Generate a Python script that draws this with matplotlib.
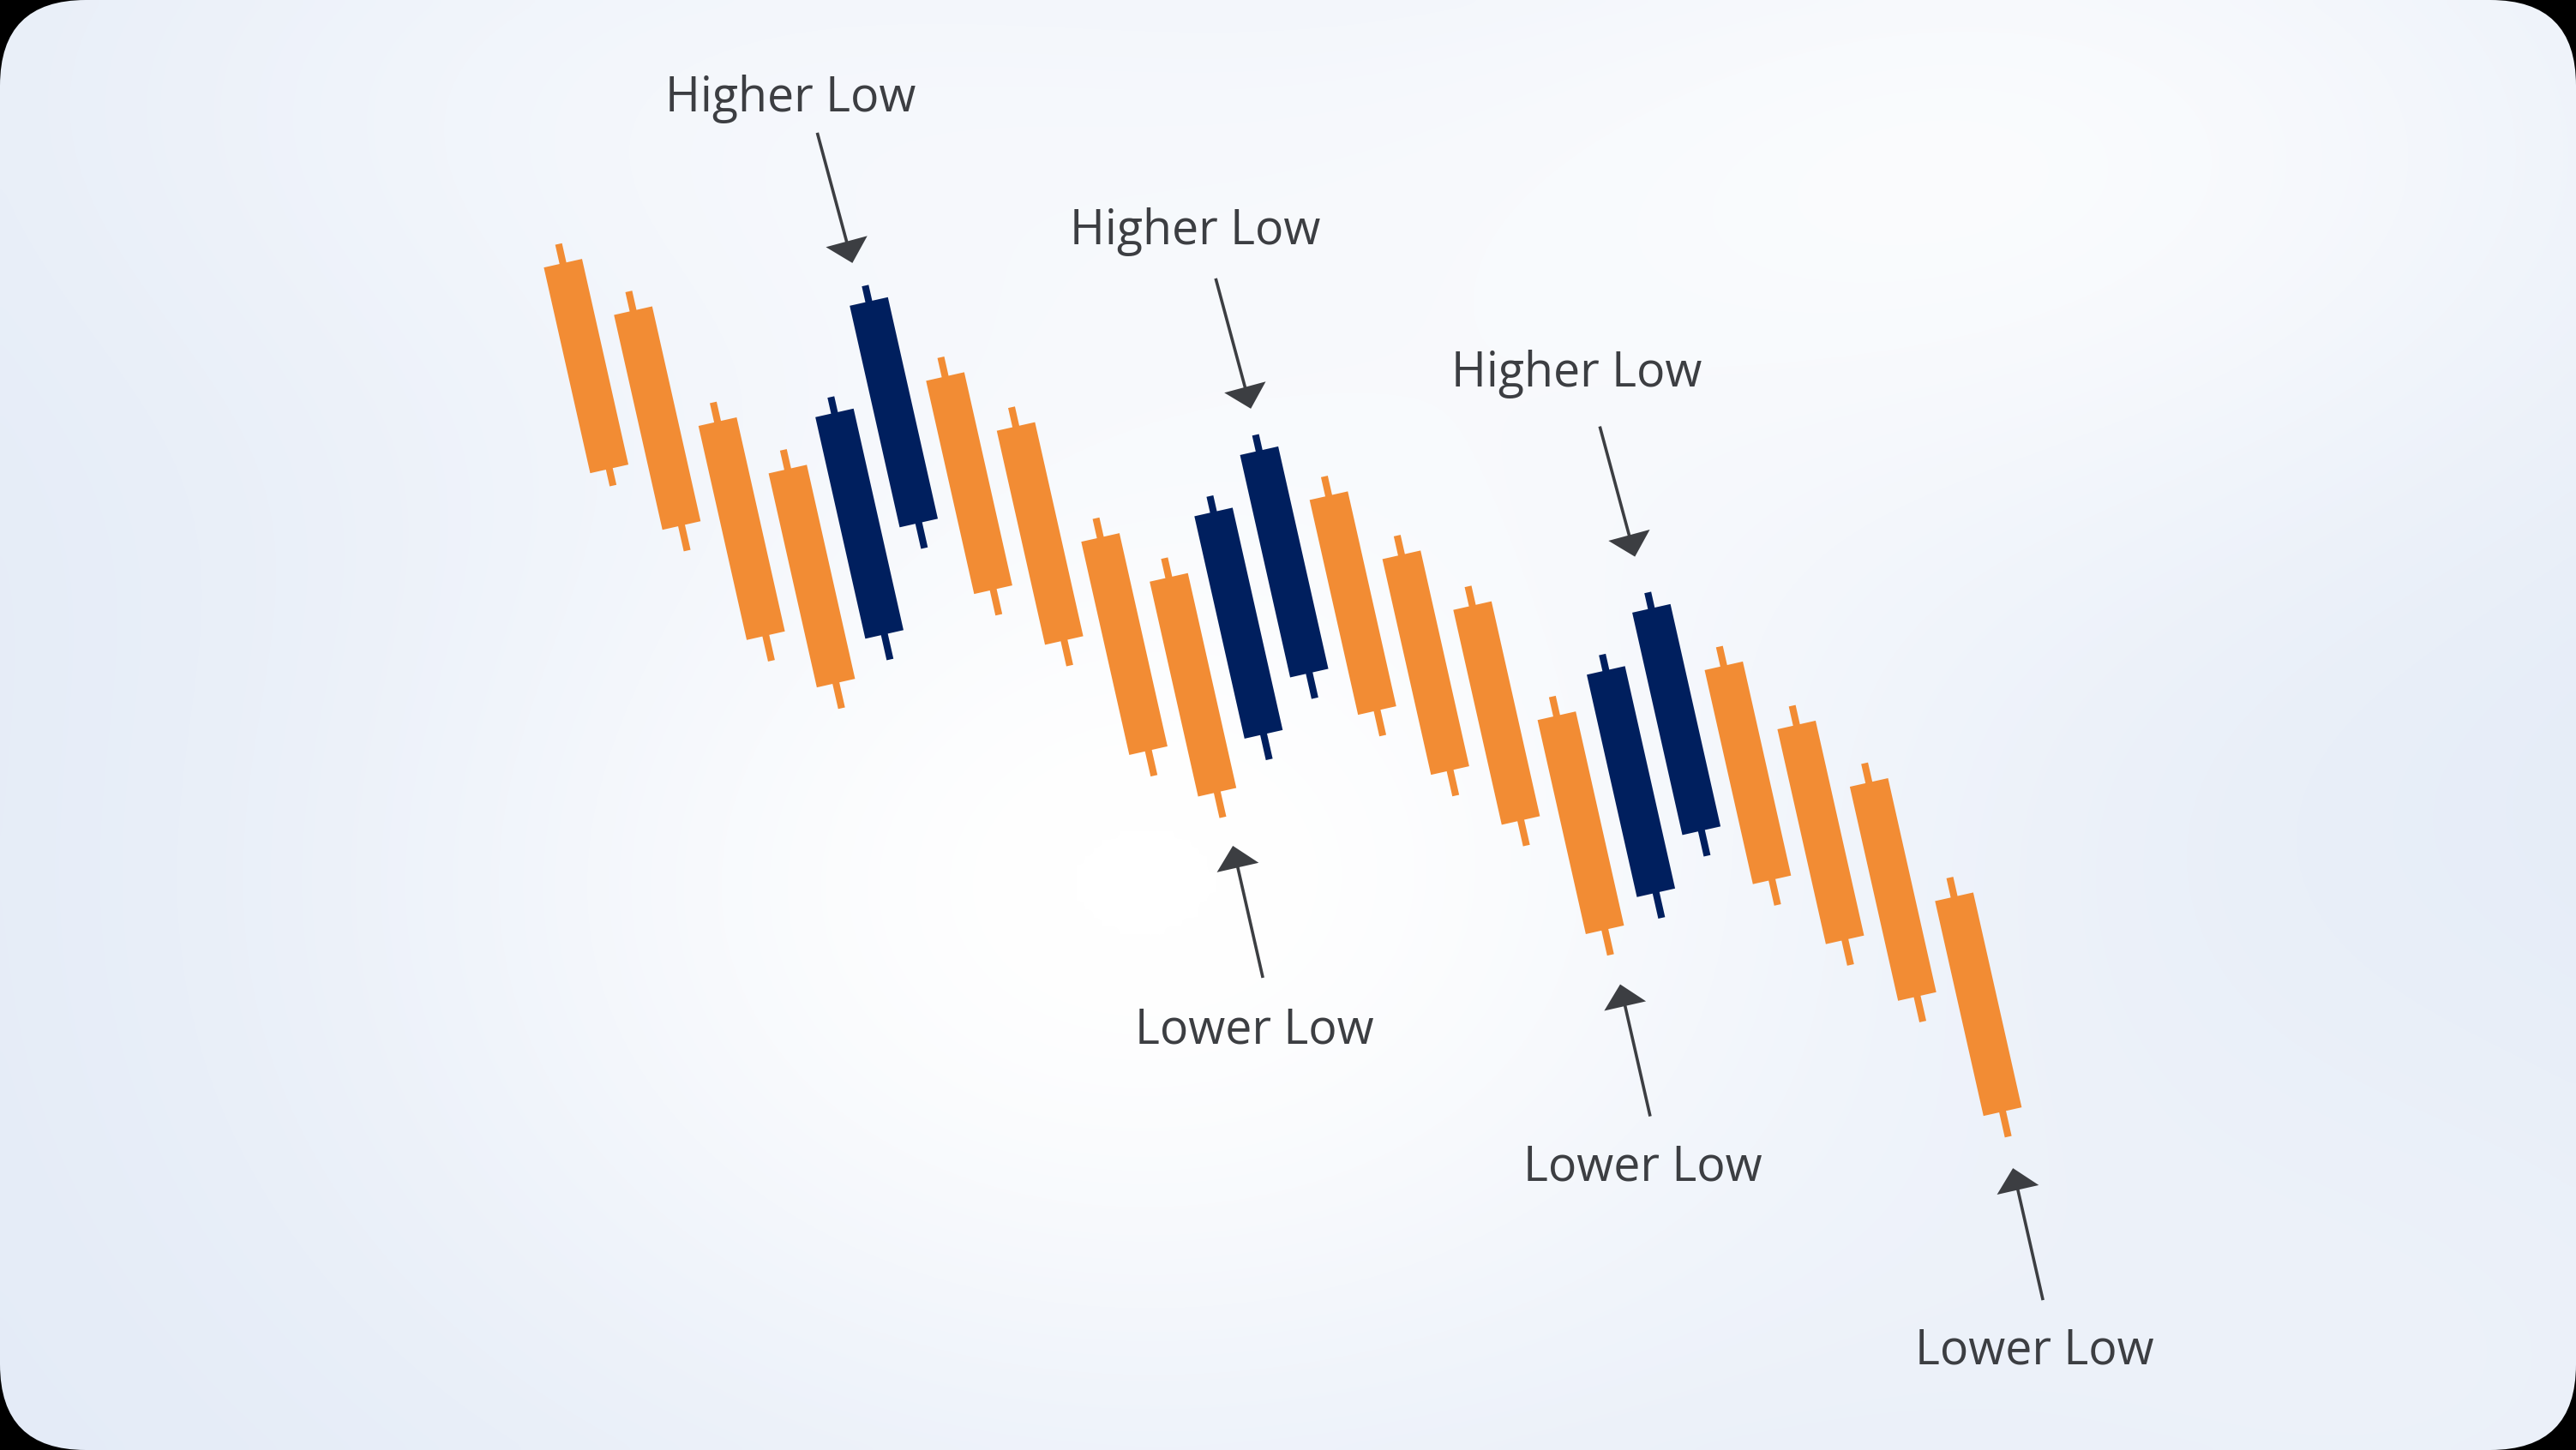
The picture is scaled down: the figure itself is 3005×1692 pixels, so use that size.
import numpy as np
import matplotlib
matplotlib.use("Agg")
import matplotlib.pyplot as plt
from matplotlib.patches import FancyBboxPatch
from matplotlib.transforms import Affine2D

W, H = 3005, 1692

# candle data (price units)
opens = [140.6, 133.4, 118.6, 111.4, 90.1, 101.9, 117.9, 110.4, 95.6, 89.3, 69.0,
         74.8, 94.5, 85.9, 78.3, 63.6, 40.9, 46.8, 65.0, 56.4, 48.0, 32.8]
closes = [116.0, 107.7, 93.0, 85.8, 116.6, 128.4, 92.4, 84.8, 70.1, 63.6, 95.6,
          101.4, 68.8, 60.1, 52.6, 38.0, 67.5, 73.4, 39.4, 30.7, 22.4, 7.1]
highs = [142.9, 135.7, 120.9, 113.7, 118.5, 130.3, 120.2, 112.7, 97.9, 91.6, 97.5,
         103.3, 96.8, 88.2, 80.6, 65.9, 69.4, 75.3, 67.3, 58.7, 50.3, 35.1]
lows = [114.0, 104.7, 90.0, 82.8, 87.1, 98.9, 89.4, 81.8, 67.1, 60.6, 66.0,
        71.8, 65.8, 57.1, 49.6, 35.0, 37.9, 43.8, 36.4, 27.7, 19.4, 4.1]

# annotations: (candle index, price) the arrow points to
higher_low_at = [(4.87, 133.2), (11.02, 106.4), (16.92, 79.7)]
lower_low_at = [(9.06, 57.1), (15.05, 31.4), (20.96, 0.4)]
higher_label = "Higher Low"
lower_label = "Lower Low"

up_color = "#001f5e"
down_color = "#f28c34"
text_color = "#3c3e42"

plt.rcParams["font.family"] = ["Open Sans", "DejaVu Sans"]

fig = plt.figure(figsize=(W / 100, H / 100), dpi=100, facecolor="black")
ax = fig.add_axes([0, 0, 1, 1])
ax.axis("off")

# rounded card with soft gradient
card = FancyBboxPatch((0, 0), W, H, boxstyle="round,pad=0,rounding_size=100",
                      transform=ax.transData, facecolor="none", edgecolor="none")
ax.add_patch(card)
yy, xx = np.mgrid[0:1:170j, 0:1:300j]
glow = np.exp(-(((xx - 0.44) / 0.30) ** 2 + ((yy - 0.62) / 0.40) ** 2))
glow += 0.75 * np.exp(-(((xx - 0.80) / 0.28) ** 2 + ((yy - 0.10) / 0.30) ** 2))
glow += 0.5 * np.exp(-(((xx - 0.28) / 0.30) ** 2 + ((yy - 0.05) / 0.25) ** 2))
glow += 0.3 * np.exp(-(((xx - 0.95) / 0.25) ** 2 + ((yy - 0.95) / 0.30) ** 2))
glow = np.clip(glow, 0, 1)[..., None]
base = np.array([0.890, 0.920, 0.968])
bg = base * (1 - glow) + np.array([1.0, 1.0, 1.0]) * glow
im = ax.imshow(bg, extent=(0, W, H, 0), interpolation="bicubic", zorder=0, aspect="auto")
im.set_clip_path(card)

# the chart is drawn tilted: candle index / price mapped through a rotation
theta = np.deg2rad(12.7)
c, s = np.cos(theta), np.sin(theta)
step, u0, k, p0 = 67.65, 573.1, 10.0, 1850.0
tilt = Affine2D(np.array([[step * c, -k * s, u0 * c + p0 * s],
                          [-step * s, -k * c, -u0 * s + p0 * c],
                          [0, 0, 1]]))
rot = tilt + ax.transData

x = np.arange(len(opens))
o = np.array(opens)
cl = np.array(closes)
colors = [up_color if b > a else down_color for a, b in zip(opens, closes)]

ax.bar(x, np.array(highs) - np.array(lows), bottom=lows, width=0.12,
       color=colors, transform=rot, zorder=2, linewidth=0)
ax.bar(x, cl - o, bottom=o, width=0.675, color=colors, transform=rot,
       zorder=3, linewidth=0)

# arrows and labels
label_up_pos = [(922, 130), (1394, 285), (1839, 451)]
label_down_pos = [(1463, 1217), (1916, 1378), (2373, 1592)]


def draw_arrow(tip, back):
    tail = tip + np.array(back)
    ax.arrow(tail[0], tail[1], tip[0] - tail[0], tip[1] - tail[1], width=3.6,
             head_width=50, head_length=26, length_includes_head=True,
             facecolor=text_color, edgecolor="none", zorder=4)


for at, pos in zip(higher_low_at, label_up_pos):
    draw_arrow(tilt.transform(at), (-41, -152))
    ax.text(pos[0], pos[1], higher_label, ha="center", va="baseline",
            fontsize=40, color=text_color, zorder=5)

for at, pos in zip(lower_low_at, label_down_pos):
    draw_arrow(tilt.transform(at), (35, 154))
    ax.text(pos[0], pos[1], lower_label, ha="center", va="baseline",
            fontsize=40, color=text_color, zorder=5)

ax.set_xlim(0, W)
ax.set_ylim(H, 0)

fig.savefig("out.png", dpi=100, facecolor="black")
